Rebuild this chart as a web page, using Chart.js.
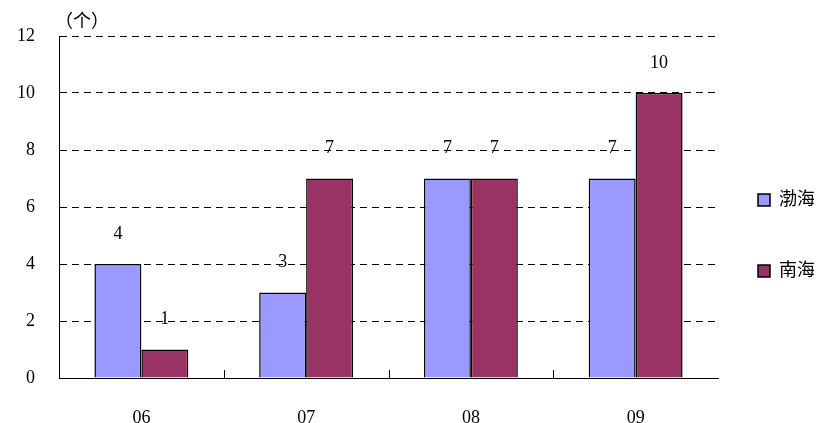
<!DOCTYPE html>
<html>
<head>
<meta charset="utf-8">
<script src="https://cdn.jsdelivr.net/npm/chart.js@4/dist/chart.umd.min.js"></script>
<style>
  html, body { margin: 0; padding: 0; background: #fff; }
  #wrap { width: 827px; height: 423px; }
</style>
</head>
<body>
<div id="wrap"><canvas id="ch"></canvas></div>
<script>
/* ── data ─────────────────────────────────────────── */
const years   = ['06', '07', '08', '09'];
const bohai   = [4, 3, 7, 7];
const nanhai  = [1, 7, 7, 10];
const unitTxt = '（个）';

const SERIF = '"Liberation Serif", "DejaVu Serif", "Noto Sans CJK SC", serif';

/* ── plugins: value labels, unit caption, inner x ticks, legend placement ── */
const valueLabels = {
  id: 'valueLabels',
  afterDatasetsDraw(chart) {
    const ctx = chart.ctx;
    ctx.save();
    ctx.font = '18px ' + SERIF;
    ctx.fillStyle = '#000';
    ctx.textAlign = 'center';
    ctx.textBaseline = 'middle';
    chart.data.datasets.forEach((ds, i) => {
      chart.getDatasetMeta(i).data.forEach((bar, j) => {
        ctx.fillText(String(ds.data[j]), bar.x, bar.y - 30);
      });
    });
    ctx.restore();
  }
};

const unitCaption = {
  id: 'unitCaption',
  afterDraw(chart) {
    const { ctx, chartArea } = chart;
    ctx.save();
    ctx.font = '18px ' + SERIF;
    ctx.fillStyle = '#000';
    ctx.textAlign = 'left';
    ctx.textBaseline = 'middle';
    ctx.fillText(unitTxt, chartArea.left - 4, chartArea.top - 14);
    ctx.restore();
  }
};

const innerTicks = {
  id: 'innerTicks',
  afterDraw(chart) {
    const { ctx, chartArea } = chart;
    const x = chart.scales.x;
    ctx.save();
    ctx.strokeStyle = '#000';
    ctx.lineWidth = 1;
    for (let i = 1; i < years.length; i++) {
      const px = Math.round((x.getPixelForTick(i - 1) + x.getPixelForTick(i)) / 2) + 0.5;
      ctx.beginPath();
      ctx.moveTo(px, chartArea.bottom);
      ctx.lineTo(px, chartArea.bottom - 8);
      ctx.stroke();
    }
    ctx.restore();
  }
};

// pin the legend column width so the plot ends where the reference does,
// then nudge the legend block into the reference position
const legendPlace = {
  id: 'legendPlace',
  beforeLayout(chart) {
    const lg = chart.legend;
    if (!lg || lg._pinned) return;
    const fit = lg.fit;
    lg.fit = function () { fit.call(this); this.width = 109; };
    lg._pinned = true;
  },
  afterLayout(chart) {
    const lg = chart.legend;
    if (!lg) return;
    lg.left -= 13; lg.right -= 13;
    lg.top += 6;   lg.bottom += 6;
  }
};

new Chart(document.getElementById('ch').getContext('2d'), {
  type: 'bar',
  data: {
    labels: years,
    datasets: [
      {
        label: '渤海',
        data: bohai,
        backgroundColor: '#9999ff',
        borderColor: '#000',
        borderWidth: 1.5,
        categoryPercentage: 0.57,
        barPercentage: 1.0
      },
      {
        label: '南海',
        data: nanhai,
        backgroundColor: '#993366',
        borderColor: '#000',
        borderWidth: 1.5,
        categoryPercentage: 0.57,
        barPercentage: 1.0
      }
    ]
  },
  options: {
    responsive: true,
    maintainAspectRatio: false,
    animation: false,
    devicePixelRatio: 1,
    layout: { padding: { top: 36, right: 0, bottom: 0, left: 0 } },
    plugins: {
      tooltip: { enabled: false },
      legend: {
        position: 'right',
        labels: {
          font: { size: 18, family: SERIF },
          color: '#000',
          boxWidth: 12,
          boxHeight: 12,
          padding: 53
        }
      }
    },
    scales: {
      x: {
        afterFit: s => { s.height = 45; },
        grid: { display: false },
        border: { color: '#000', width: 1 },
        ticks: { font: { size: 18, family: SERIF }, color: '#000', padding: 21 }
      },
      y: {
        min: 0, max: 12,
        afterFit: s => { s.width = 59; },
        grid: { color: '#000', drawTicks: false },
        border: { color: '#000', width: 1, dash: [7, 5] },
        ticks: { stepSize: 2, font: { size: 18, family: SERIF }, color: '#000', padding: 24 }
      }
    }
  },
  plugins: [valueLabels, unitCaption, innerTicks, legendPlace]
});
</script>
</body>
</html>
